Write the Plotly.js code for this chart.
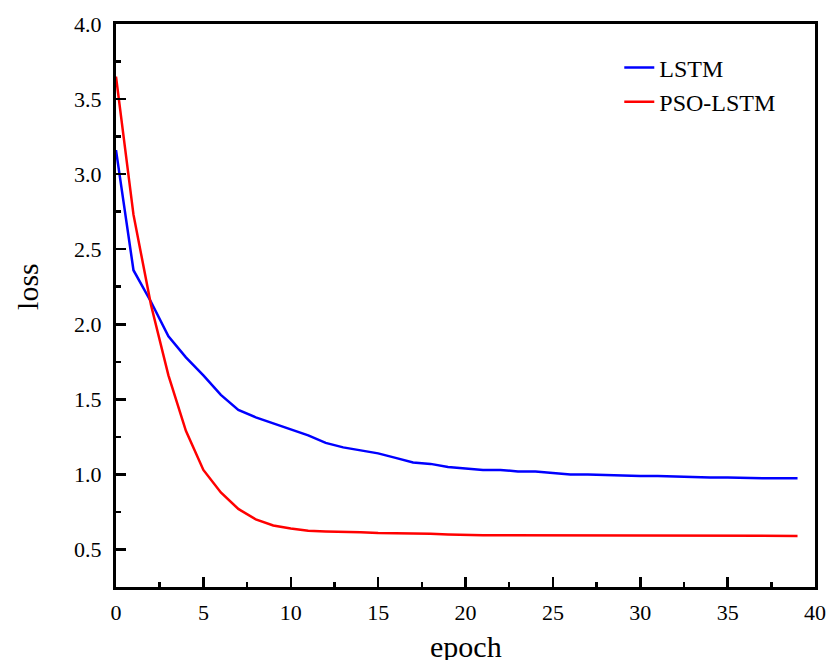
<!DOCTYPE html>
<html>
<head>
<meta charset="utf-8">
<script src="https://cdn.plot.ly/plotly-3.0.1.min.js"></script>
<style>html,body{margin:0;padding:0;background:#fff;} #chart{width:827px;height:660px;}</style>
</head>
<body>
<div id="chart"></div>
<script>
const epochs = Array.from({length: 40}, (_, i) => i);
const lstmLoss = [3.16, 2.36, 2.15, 1.92, 1.78, 1.66, 1.53, 1.43, 1.38, 1.34,
                  1.30, 1.26, 1.21, 1.18, 1.16, 1.14, 1.11, 1.08, 1.07, 1.05,
                  1.04, 1.03, 1.03, 1.02, 1.02, 1.01, 1.00, 1.00, 0.995, 0.99,
                  0.99, 0.99, 0.985, 0.985, 0.98, 0.98, 0.975, 0.975, 0.975, 0.975];
const psoLoss = [3.65, 2.73, 2.13, 1.66, 1.29, 1.03, 0.88, 0.77, 0.70, 0.66,
                 0.64, 0.625, 0.62, 0.62, 0.615, 0.61, 0.61, 0.61, 0.605, 0.60,
                 0.595, 0.595, 0.595, 0.595, 0.595, 0.595, 0.595, 0.595, 0.595, 0.595,
                 0.595, 0.595, 0.59, 0.59, 0.59, 0.59, 0.59, 0.59, 0.59, 0.59];
const seriesNames = ['LSTM', 'PSO-LSTM'];
const xTicks = [0, 5, 10, 15, 20, 25, 30, 35, 40];
const yTicks = [0.5, 1.0, 1.5, 2.0, 2.5, 3.0, 3.5, 4.0];
const xTitle = 'epoch';
const yTitle = 'loss';

const FONT = 'Liberation Serif, DejaVu Serif, serif';

const traces = [
  {x: epochs, y: lstmLoss, name: seriesNames[0], mode: 'lines', legendgroup: 'a',
   line: {color: '#0000ff', width: 2.5}},
  {x: epochs, y: psoLoss, name: seriesNames[1], mode: 'lines', legendgroup: 'b',
   line: {color: '#ff0000', width: 2.5}}
];

const axisCommon = {
  showline: true, mirror: true, linecolor: '#000', linewidth: 3,
  ticks: 'inside', ticklen: 10, tickwidth: 2.5, tickcolor: '#000',
  showgrid: false, zeroline: false,
  tickfont: {family: FONT, size: 22, color: '#000'}
};

const layout = {
  width: 827, height: 660,
  margin: {l: 116, r: 12, t: 24, b: 73},
  paper_bgcolor: '#fff', plot_bgcolor: '#fff',
  showlegend: true,
  legend: {x: 0.72, y: 0.962, xanchor: 'left', yanchor: 'top',
           font: {family: FONT, size: 24, color: '#000'},
           bgcolor: 'rgba(0,0,0,0)', tracegroupgap: 0},
  xaxis: Object.assign({}, axisCommon, {
    range: [0, 40], tickvals: xTicks, ticktext: xTicks.map(String),
    ticklabelstandoff: 4,
    minor: {ticks: 'inside', ticklen: 5, tickwidth: 2.5, tickcolor: '#000', dtick: 2.5, showgrid: false}
  }),
  yaxis: Object.assign({}, axisCommon, {
    range: [0.25, 4.0], tickvals: yTicks, ticktext: yTicks.map(v => v.toFixed(1)),
    ticklabelstandoff: 7,
    minor: {ticks: 'inside', ticklen: 5, tickwidth: 2.5, tickcolor: '#000', dtick: 0.25, tick0: 0.25, showgrid: false}
  }),
  annotations: [
    {text: yTitle, xref: 'paper', yref: 'paper', x: 0, y: 0.533,
     xanchor: 'center', yanchor: 'middle', xshift: -88, textangle: -90,
     showarrow: false, font: {family: FONT, size: 30, color: '#000'}},
    {text: xTitle, xref: 'paper', yref: 'paper', x: 0.5, y: 0,
     xanchor: 'center', yanchor: 'top', yshift: -41,
     showarrow: false, font: {family: FONT, size: 30, color: '#000'}}
  ]
};

Plotly.newPlot('chart', traces, layout, {displayModeBar: false, staticPlot: true});
</script>
</body>
</html>
